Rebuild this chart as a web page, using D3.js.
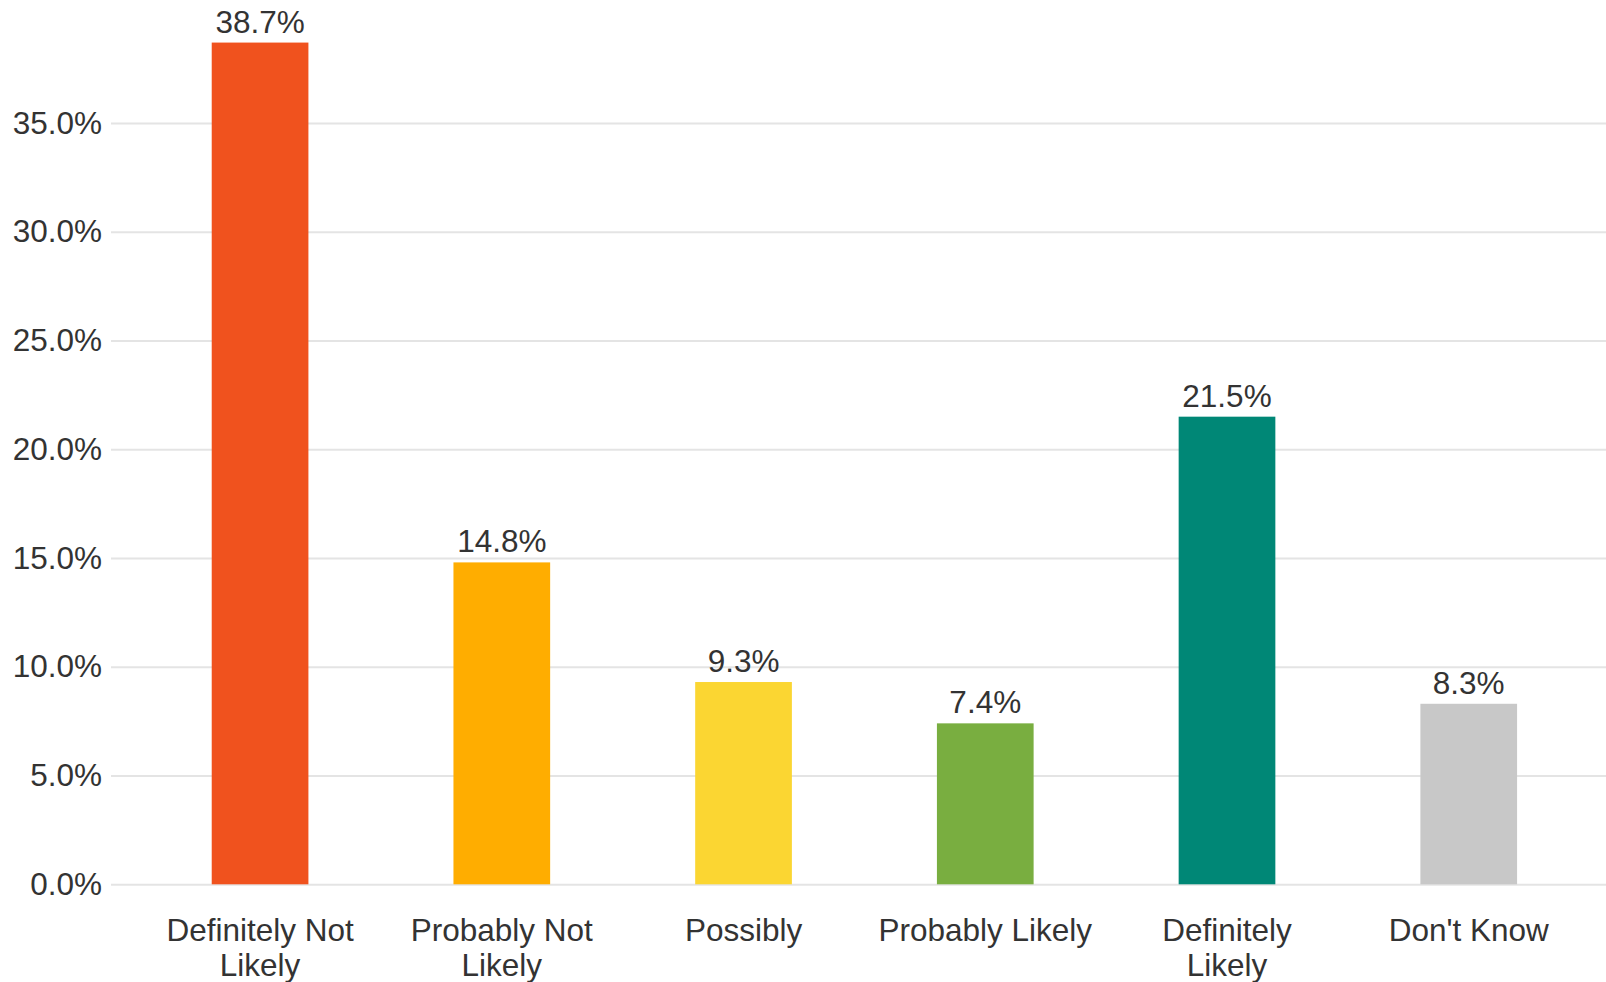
<!DOCTYPE html>
<html>
<head>
<meta charset="utf-8">
<script src="https://cdn.jsdelivr.net/npm/d3@7"></script>
<style>
  html, body { margin: 0; padding: 0; background: #fff; }
  svg { display: block; }
  text { font-family: "Liberation Sans", Arial, sans-serif; fill: #333; }
</style>
</head>
<body>
<svg id="chart" width="1606" height="982"></svg>
<script>
const categories = ["Definitely Not Likely", "Probably Not Likely", "Possibly", "Probably Likely", "Definitely Likely", "Don't Know"];
const categoryLines = [["Definitely Not", "Likely"], ["Probably Not", "Likely"], ["Possibly"], ["Probably Likely"], ["Definitely", "Likely"], ["Don't Know"]];
const values = [38.7, 14.8, 9.3, 7.4, 21.5, 8.3];
const colors = ["#F0521E", "#FFAD00", "#FBD632", "#79AE40", "#008776", "#C8C8C8"];
const tickValues = [0, 5, 10, 15, 20, 25, 30, 35];

const svg = d3.select("#chart");
const gridLeft = 111, gridRight = 1606;
const y0 = 884.3, pxPerUnit = 21.75;
const fontSize = "31.5px";

const x = d3.scaleBand()
  .domain(categories)
  .range([139.2, 1589.6])
  .paddingInner(0.6)
  .paddingOuter(0.3);

const y = d3.scaleLinear()
  .domain([0, 40])
  .range([y0, y0 - 40 * pxPerUnit]);

// gridlines + y axis
const yAxis = d3.axisLeft(y)
  .tickValues(tickValues)
  .tickFormat(d => d3.format(".1f")(d) + "%")
  .tickSize(-(gridRight - gridLeft))
  .tickPadding(9);

const gy = svg.append("g")
  .attr("transform", `translate(${gridLeft},0)`)
  .call(yAxis);
gy.select(".domain").remove();
gy.selectAll(".tick line").attr("stroke", "#e4e4e4").attr("stroke-width", 2);
gy.selectAll(".tick text")
  .attr("x", -9)
  .style("font-size", fontSize)
  .style("font-family", "'Liberation Sans', Arial, sans-serif")
  .attr("fill", "#333");

// bars
svg.append("g").selectAll("rect")
  .data(values)
  .join("rect")
  .attr("x", (d, i) => x(categories[i]))
  .attr("width", x.bandwidth())
  .attr("y", d => y(d))
  .attr("height", d => y(0) - y(d))
  .attr("fill", (d, i) => colors[i]);

// value labels
svg.append("g").selectAll("text")
  .data(values)
  .join("text")
  .attr("x", (d, i) => x(categories[i]) + x.bandwidth() / 2)
  .attr("y", d => y(d) - 10)
  .attr("text-anchor", "middle")
  .style("font-size", fontSize)
  .text(d => d.toFixed(1) + "%");

// category labels
const xl = svg.append("g").selectAll("text")
  .data(categories)
  .join("text")
  .attr("x", d => x(d) + x.bandwidth() / 2)
  .attr("y", 941)
  .attr("text-anchor", "middle")
  .style("font-size", fontSize);
xl.each(function(d, i) {
  const t = d3.select(this);
  categoryLines[i].forEach((line, j) => {
    t.append("tspan")
      .attr("x", x(d) + x.bandwidth() / 2)
      .attr("dy", j === 0 ? 0 : 35)
      .text(line);
  });
});
</script>
</body>
</html>
